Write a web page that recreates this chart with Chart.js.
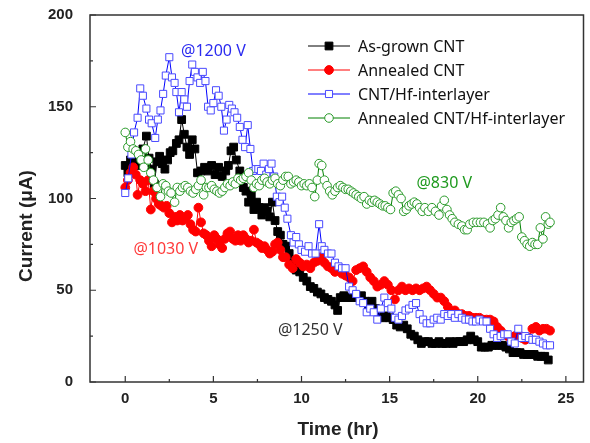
<!DOCTYPE html>
<html>
<head>
<meta charset="utf-8">
<script src="https://cdn.jsdelivr.net/npm/chart.js@4.4.0/dist/chart.umd.min.js"></script>
<style>
  html, body { margin: 0; padding: 0; background: #fff; }
  #wrap { width: 590px; height: 443px; }
</style>
</head>
<body>
<div id="wrap"><canvas id="currentChart"></canvas></div>
<script>
// series names
const seriesNames = ['As-grown CNT', 'Annealed CNT', 'CNT/Hf-interlayer', 'Annealed CNT/Hf-interlayer'];

// As-grown CNT (@1250 V)
const grownTime = [0,0.15,0.3,0.5,0.65,0.8,1.0,1.2,1.35,1.5,1.65,1.8,1.95,2.1,2.25,2.4,2.55,2.7,2.9,3.05,3.2,3.35,3.5,3.65,3.8,3.95,4.1,4.3,4.5,4.7,4.9,5.1,5.3,5.5,5.7,5.85,6.0,6.15,6.3,6.5,6.7,6.85,7.0,7.15,7.3,7.45,7.6,7.75,7.9,8.05,8.2,8.35,8.5,8.65,8.8,8.95,9.1,9.3,9.5,9.7,9.9,10.1,10.3,10.5,10.7,10.9,11.1,11.3,11.5,11.7,11.9,12.05,12.2,12.4,12.6,12.8,13.0,13.2,13.4,13.6,13.8,14.0,14.2,14.4,14.6,14.8,15.0,15.2,15.4,15.6,15.8,16.0,16.2,16.4,16.6,16.8,17.0,17.2,17.4,17.6,17.8,18.0,18.2,18.4,18.6,18.8,19.0,19.2,19.4,19.6,19.8,20.0,20.2,20.4,20.6,20.8,21.0,21.2,21.4,21.6,21.8,22.0,22.2,22.4,22.6,22.8,23.0,23.2,23.4,23.6,23.8,24.0];
const grownCurrent = [118,114,121,123,118,121,127,134,122,116,108,120,123,119,116,121,125,126,130,132,143,135,128,124,132,127,114,115,117,115,118,113,117,112,115,118,126,128,121,115,106,104,98,102,94,98,95,91,95,93,90,98,88,82,80,75,74,70,65,61,60,57,55,52,51,49,48,46,45,44,42,39,46,47,46,46,47,46,47,44,42,44,40,38,35,36,35,34,31,30,31,29,26,25,23,21,22,22,21,21,22,21,21,22,21,22,22,22,23,25,23,22,19,19,19,20,20,20,20,19,18,16,16,16,15,15,15,15,14,14,14,12];

// Annealed CNT (@1030 V)
const annealTime = [0,0.15,0.3,0.45,0.6,0.7,0.85,1.0,1.15,1.3,1.45,1.6,1.75,1.9,2.05,2.2,2.35,2.5,2.65,2.8,2.95,3.1,3.25,3.4,3.55,3.7,3.85,4.0,4.15,4.3,4.45,4.6,4.75,4.9,5.05,5.2,5.35,5.5,5.65,5.8,5.95,6.1,6.25,6.4,6.55,6.7,6.85,7.0,7.15,7.3,7.45,7.6,7.75,7.9,8.05,8.2,8.35,8.5,8.65,8.8,8.95,9.1,9.3,9.5,9.7,9.9,10.1,10.3,10.5,10.7,10.9,11.1,11.3,11.5,11.7,11.9,12.1,12.3,12.5,12.7,12.9,13.1,13.3,13.5,13.7,13.9,14.1,14.3,14.5,14.7,14.9,15.1,15.3,15.5,15.7,15.9,16.1,16.3,16.5,16.7,16.9,17.1,17.3,17.5,17.7,17.9,18.1,18.3,18.5,18.7,18.9,19.1,19.3,19.5,19.7,19.9,20.1,20.3,20.5,20.7,20.9,21.1,21.3,21.5,21.7,21.9,22.1,22.3,22.5,22.7,22.9,23.1,23.3,23.5,23.7,23.9,24.1];
const annealCurrent = [106,110,114,117,113,102,110,108,104,110,94,104,100,97,96,95,96,92,87,90,88,91,88,89,91,86,83,82,95,87,81,80,77,74,80,78,75,73,78,81,82,78,77,80,77,80,78,76,77,83,76,75,73,74,72,70,71,75,76,72,68,68,64,62,67,65,63,64,62,65,66,68,65,63,62,60,61,59,58,57,55,61,62,63,60,57,55,52,53,55,53,50,45,50,52,50,51,50,51,50,51,52,50,48,46,46,44,41,38,39,37,37,36,36,35,35,35,34,34,34,33,30,28,26,25,24,25,26,24,23,24,29,30,28,29,29,28];

// CNT/Hf-interlayer (@1200 V)
const hfTime = [0,0.17,0.35,0.5,0.7,0.85,1.0,1.2,1.35,1.5,1.7,1.85,2.0,2.15,2.3,2.5,2.65,2.8,2.9,3.05,3.2,3.35,3.5,3.65,3.8,3.95,4.1,4.25,4.4,4.55,4.7,4.85,5.0,5.15,5.3,5.45,5.6,5.75,5.9,6.05,6.2,6.35,6.5,6.65,6.8,6.95,7.1,7.25,7.4,7.55,7.7,7.85,8.0,8.15,8.3,8.45,8.6,8.75,8.9,9.05,9.2,9.4,9.55,9.7,9.85,10.0,10.2,10.4,10.6,10.8,11.0,11.15,11.3,11.5,11.7,11.9,12.1,12.3,12.5,12.7,12.9,13.1,13.3,13.5,13.7,13.9,14.1,14.3,14.5,14.7,14.9,15.1,15.3,15.5,15.7,15.9,16.1,16.3,16.5,16.7,16.9,17.1,17.3,17.5,17.7,17.9,18.1,18.3,18.5,18.7,18.9,19.1,19.3,19.5,19.7,19.9,20.1,20.3,20.5,20.7,20.9,21.1,21.3,21.5,21.7,21.9,22.1,22.3,22.5,22.7,22.9,23.1,23.3,23.5,23.7,23.9,24.1];
const hfCurrent = [103,111,124,136,144,160,156,149,143,141,133,143,148,157,167,177,166,163,158,147,158,154,150,164,173,169,166,163,169,164,150,148,152,159,156,150,137,143,151,149,147,144,139,132,128,140,127,115,116,116,115,119,113,116,119,112,101,98,101,95,89,80,76,79,75,72,71,74,70,70,86,74,72,70,70,65,63,62,62,52,50,48,44,43,38,40,38,34,40,46,43,40,35,34,36,39,40,42,43,37,34,32,32,34,35,34,37,36,37,35,37,35,34,34,33,33,34,33,33,29,26,24,25,26,26,22,21,29,24,25,24,23,23,22,21,20,20];

// Annealed CNT/Hf-interlayer (@830 V)
const annealHfTime = [0,0.15,0.3,0.45,0.6,0.75,0.9,1.05,1.15,1.3,1.45,1.6,1.8,2.0,2.15,2.3,2.45,2.6,2.8,2.95,3.1,3.25,3.4,3.55,3.7,3.85,4.0,4.15,4.3,4.45,4.6,4.75,4.9,5.05,5.2,5.35,5.5,5.65,5.8,5.95,6.1,6.25,6.4,6.55,6.7,6.85,7.0,7.15,7.3,7.45,7.6,7.75,7.9,8.05,8.2,8.35,8.5,8.65,8.8,8.95,9.1,9.25,9.4,9.55,9.7,9.85,10.0,10.15,10.3,10.45,10.6,10.75,10.9,11.0,11.15,11.3,11.45,11.6,11.75,11.9,12.05,12.2,12.35,12.5,12.65,12.8,12.95,13.1,13.25,13.4,13.55,13.7,13.85,14.0,14.15,14.3,14.45,14.6,14.75,14.9,15.05,15.2,15.35,15.5,15.65,15.8,15.95,16.1,16.25,16.4,16.55,16.7,16.85,17.0,17.2,17.4,17.6,17.8,17.95,18.1,18.25,18.4,18.55,18.7,18.9,19.1,19.25,19.4,19.55,19.75,19.95,20.15,20.35,20.55,20.7,20.85,21.0,21.15,21.3,21.45,21.6,21.75,21.9,22.05,22.2,22.35,22.5,22.65,22.8,22.95,23.1,23.25,23.4,23.55,23.7,23.85,24.0,24.1];
const annealHfCurrent = [136,128,131,127,126,124,121,117,127,121,114,110,106,101,108,107,104,103,98,106,104,106,107,106,104,103,105,107,110,102,106,106,107,105,104,103,104,106,108,107,109,108,111,110,111,112,114,110,106,108,107,110,111,109,108,110,111,108,107,110,112,112,108,109,110,109,107,108,107,108,106,101,110,119,118,110,107,104,102,104,106,107,106,105,105,104,103,102,101,100,101,97,99,98,99,98,97,96,96,95,94,103,104,102,100,93,94,96,97,98,97,95,93,95,93,95,93,91,96,99,94,91,89,87,86,85,83,83,86,87,87,87,87,86,84,88,89,91,95,90,88,84,87,88,89,90,79,77,75,74,76,75,75,84,78,90,86,87];

// axis ticks
const xTickValues = [0, 5, 10, 15, 20, 25];
const yTickValues = [0, 50, 100, 150, 200];

// voltage labels: [text, time, current, colour]
const voltageNotes = [
  ['@1200 V', 5.0, 180, '#2b2bf0'],
  ['@830 V', 18.1, 108, '#1f9a1f'],
  ['@1030 V', 2.3, 72.5, '#ff3b3b'],
  ['@1250 V', 10.5, 28, '#333333']
];

function toPoints(ts, vs) {
  return ts.map((t, i) => ({ x: t, y: vs[i] }));
}

const styles = [
  { line: '#000000', border: '#000000', fill: '#000000', shape: 'rect', r: 5.5, order: 3 },
  { line: '#ff0000', border: '#ff0000', fill: '#ff0000', shape: 'circle', r: 4.4, order: 2 },
  { line: '#0000ff', border: '#4a4aff', fill: '#ffffff', shape: 'rect', r: 5.0, order: 1 },
  { line: '#008000', border: '#2a9a2a', fill: '#ffffff', shape: 'circle', r: 4.3, order: 0 }
];

const allData = [
  toPoints(grownTime, grownCurrent),
  toPoints(annealTime, annealCurrent),
  toPoints(hfTime, hfCurrent),
  toPoints(annealHfTime, annealHfCurrent)
];

const datasets = allData.map((d, i) => ({
  label: seriesNames[i],
  data: d,
  showLine: true,
  borderColor: styles[i].line,
  borderWidth: 1,
  pointStyle: styles[i].shape,
  pointRadius: styles[i].r,
  pointBorderWidth: 1,
  pointBorderColor: styles[i].border,
  pointBackgroundColor: styles[i].fill,
  order: styles[i].order
}));

// frame, inward ticks, titles, notes, legend
const decorPlugin = {
  id: 'decor',
  afterDraw(chart) {
    const ctx = chart.ctx;
    const a = chart.chartArea;
    const xs = chart.scales.x, ys = chart.scales.y;
    ctx.save();
    ctx.strokeStyle = '#333';
    ctx.lineWidth = 1.5;
    ctx.strokeRect(a.left, a.top, a.right - a.left, a.bottom - a.top);

    ctx.lineWidth = 1.2;
    ctx.beginPath();
    for (let v = 0; v <= 26; v += 2.5) {
      const px = xs.getPixelForValue(v);
      const len = (v % 5 === 0) ? 6 : 3;
      ctx.moveTo(px, a.bottom); ctx.lineTo(px, a.bottom - len);
    }
    for (let v = 0; v <= 200; v += 25) {
      const py = ys.getPixelForValue(v);
      const len = (v % 50 === 0) ? 6 : 3;
      ctx.moveTo(a.left, py); ctx.lineTo(a.left + len, py);
    }
    ctx.stroke();

    // axis titles
    ctx.fillStyle = '#222';
    ctx.font = 'bold 19px "Liberation Sans", Arial, sans-serif';
    ctx.textAlign = 'center';
    ctx.textBaseline = 'middle';
    ctx.fillText('Time (hr)', 338, 430);
    ctx.save();
    ctx.translate(27, 226);
    ctx.rotate(-Math.PI / 2);
    ctx.fillText('Current (\u03bcA)', 0, 0);
    ctx.restore();

    // voltage notes
    ctx.font = '16px "Noto Sans", sans-serif';
    voltageNotes.forEach(n => {
      ctx.fillStyle = n[3];
      ctx.fillText(n[0], xs.getPixelForValue(n[1]), ys.getPixelForValue(n[2]));
    });

    // legend
    ctx.textAlign = 'left';
    seriesNames.forEach((name, i) => {
      const y = 46 + i * 24;
      const s = styles[i];
      ctx.strokeStyle = s.line;
      ctx.lineWidth = 1;
      ctx.beginPath();
      ctx.moveTo(308, y); ctx.lineTo(350, y);
      ctx.stroke();
      ctx.fillStyle = s.fill;
      ctx.strokeStyle = s.border;
      ctx.beginPath();
      if (s.shape === 'rect') {
        const h = s.r * Math.SQRT1_2;
        ctx.rect(329 - h, y - h, 2 * h, 2 * h);
      } else {
        ctx.arc(329, y, s.r, 0, Math.PI * 2);
      }
      ctx.fill();
      ctx.stroke();
      ctx.fillStyle = '#111';
      ctx.fillText(name, 358, y + 1);
    });
    ctx.restore();
  }
};

const ctx = document.getElementById('currentChart').getContext('2d');
new Chart(ctx, {
  type: 'scatter',
  data: { datasets: datasets },
  plugins: [decorPlugin],
  options: {
    responsive: true,
    maintainAspectRatio: false,
    animation: false,
    layout: { padding: { top: 15, right: 4, left: 0, bottom: 0 } },
    plugins: { legend: { display: false }, tooltip: { enabled: false } },
    scales: {
      x: {
        type: 'linear',
        min: -2,
        max: 26,
        grid: { display: false, drawTicks: false },
        border: { display: false },
        afterBuildTicks: s => { s.ticks = xTickValues.map(v => ({ value: v })); },
        afterFit: s => { s.height = 61; s.paddingLeft = 0; s.paddingRight = 0; },
        ticks: {
          padding: 8,
          color: '#222',
          font: { family: '"Liberation Sans", Arial, sans-serif', size: 15, weight: 'bold' }
        }
      },
      y: {
        min: 0,
        max: 200,
        grid: { display: false, drawTicks: false },
        border: { display: false },
        afterBuildTicks: s => { s.ticks = yTickValues.map(v => ({ value: v })); },
        afterFit: s => { s.width = 90; s.paddingTop = 0; s.paddingBottom = 0; },
        ticks: {
          padding: 17,
          color: '#222',
          font: { family: '"Liberation Sans", Arial, sans-serif', size: 15, weight: 'bold' }
        }
      }
    }
  }
});
</script>
</body>
</html>
